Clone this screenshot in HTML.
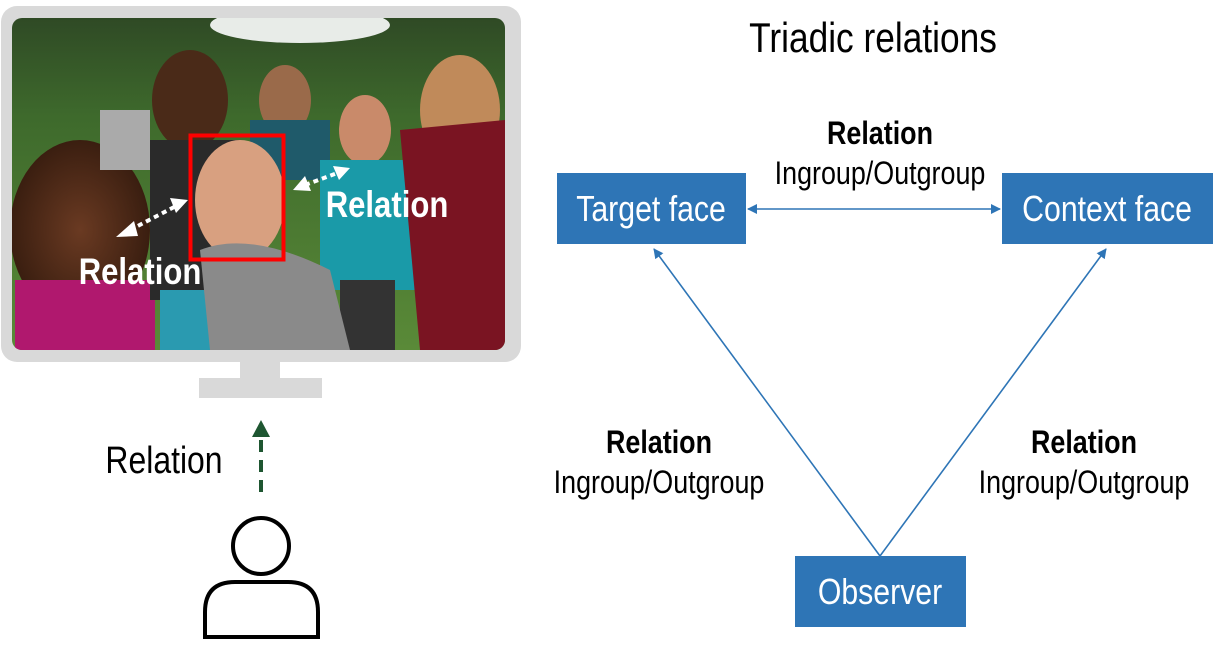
<!DOCTYPE html>
<html><head><style>
body{margin:0;width:1216px;height:662px;background:#fff;position:relative;overflow:hidden;font-family:"Liberation Sans",sans-serif}
.t{position:absolute;white-space:nowrap;transform:scaleX(.84);transform-origin:center top;text-align:center}
.box{position:absolute;background:#2e75b6;color:#fff;display:flex;align-items:center;justify-content:center;font-size:36px}
.box span{display:inline-block;transform:scaleX(.84)}
</style></head><body>
<svg width="1216" height="662" style="position:absolute;left:0;top:0">
<defs>
<marker id="a" markerWidth="10" markerHeight="10" refX="9" refY="5" orient="auto" markerUnits="userSpaceOnUse"><path d="M0,0L10,5L0,10z" fill="#2e75b6"/></marker>
<marker id="b" markerWidth="10" markerHeight="10" refX="1" refY="5" orient="auto" markerUnits="userSpaceOnUse"><path d="M10,0L0,5L10,10z" fill="#2e75b6"/></marker>
<radialGradient id="g1" cx=".5" cy=".5" r=".5"><stop offset="0" stop-color="#6a3a22"/><stop offset="1" stop-color="#3a1e10"/></radialGradient>
<linearGradient id="bg" x1="0" y1="0" x2="0" y2="1"><stop offset="0" stop-color="#2f4a25"/><stop offset=".3" stop-color="#3e6a2c"/><stop offset="1" stop-color="#5a8a38"/></linearGradient>
</defs>
<rect x="1" y="6" width="520" height="356" rx="16" fill="#d9d9d9"/>
<rect x="240" y="360" width="40" height="20" fill="#d9d9d9"/>
<rect x="199" y="378" width="123" height="20" fill="#d9d9d9"/>
<clipPath id="c"><rect x="12" y="18" width="493" height="332" rx="10"/></clipPath>
<g clip-path="url(#c)">
<rect x="12" y="18" width="493" height="332" fill="url(#bg)"/>
<ellipse cx="300" cy="25" rx="90" ry="18" fill="#e8ece8"/>
<ellipse cx="80" cy="230" rx="70" ry="90" fill="url(#g1)"/>
<rect x="15" y="280" width="140" height="70" fill="#b0186e"/>
<ellipse cx="190" cy="100" rx="38" ry="50" fill="#4a2a18"/>
<rect x="150" y="140" width="90" height="160" fill="#2a2a2a"/>
<rect x="100" y="110" width="50" height="60" fill="#aaa"/>
<rect x="160" y="290" width="70" height="60" fill="#2a9ab0"/>
<ellipse cx="285" cy="100" rx="26" ry="35" fill="#9a6a4a"/>
<rect x="250" y="120" width="80" height="60" fill="#1f5a6a"/>
<ellipse cx="365" cy="130" rx="26" ry="35" fill="#c98a6a"/>
<rect x="320" y="160" width="100" height="130" fill="#1a9aa8"/>
<rect x="340" y="280" width="55" height="70" fill="#333"/>
<ellipse cx="460" cy="110" rx="40" ry="55" fill="#c08a5a"/>
<path d="M400 130 L505 120 L505 350 L420 350 Z" fill="#7a1422"/>
<ellipse cx="240" cy="200" rx="45" ry="60" fill="#d8a080"/>
<path d="M200 250 Q250 230 330 270 L350 350 L210 350 Z" fill="#8a8a8a"/>
</g>
<rect x="190.5" y="135.5" width="93" height="124" fill="none" stroke="#f00" stroke-width="4"/>
<g stroke="#fff" stroke-width="4" stroke-dasharray="5 4" fill="#fff">
<line x1="130" y1="230" x2="178" y2="205"/><line x1="305" y1="185" x2="340" y2="172"/></g>
<path d="M116 237 L134 221 L138 236Z M188 200 L170 198 L176 213Z M293 190 L305 176 L311 191Z M350 168 L333 166 L339 180Z" fill="#fff"/>
<line x1="261" y1="492" x2="261" y2="432" stroke="#1e5631" stroke-width="4" stroke-dasharray="12 8"/>
<path d="M252 437 L261 420 L270 437Z" fill="#1e5631"/>
<circle cx="261" cy="546" r="28" fill="none" stroke="#000" stroke-width="4"/>
<path d="M205 637 L205 612 Q205 582 235 582 L288 582 Q318 582 318 612 L318 637 Z" fill="none" stroke="#000" stroke-width="4"/>
<g stroke="#2e75b6" stroke-width="1.6">
<line x1="748" y1="209" x2="1000" y2="209" marker-end="url(#a)" marker-start="url(#b)"/>
<line x1="880" y1="556" x2="654" y2="249" marker-end="url(#a)"/>
<line x1="880" y1="556" x2="1106" y2="249" marker-end="url(#a)"/>
</g>
</svg>
<div class="t" style="left:30px;top:251px;width:220px;font-size:37px;color:#fff;font-weight:bold">Relation</div>
<div class="t" style="left:277px;top:184px;width:220px;font-size:37px;color:#fff;font-weight:bold">Relation</div>
<div class="t" style="left:54px;top:440px;width:220px;font-size:38px;color:#000">Relation</div>
<div class="t" style="left:723px;top:14px;width:300px;font-size:42px;color:#000">Triadic relations</div>
<div class="t" style="left:730px;top:115px;width:300px;font-size:32px;font-weight:bold">Relation</div>
<div class="t" style="left:730px;top:155px;width:300px;font-size:32px">Ingroup/Outgroup</div>
<div class="t" style="left:509px;top:424px;width:300px;font-size:32px;font-weight:bold">Relation</div>
<div class="t" style="left:509px;top:464px;width:300px;font-size:32px">Ingroup/Outgroup</div>
<div class="t" style="left:934px;top:424px;width:300px;font-size:32px;font-weight:bold">Relation</div>
<div class="t" style="left:934px;top:464px;width:300px;font-size:32px">Ingroup/Outgroup</div>
<div class="box" style="left:557px;top:173px;width:189px;height:71px"><span>Target face</span></div>
<div class="box" style="left:1002px;top:173px;width:211px;height:71px"><span>Context face</span></div>
<div class="box" style="left:795px;top:556px;width:171px;height:71px"><span>Observer</span></div>
</body></html>
